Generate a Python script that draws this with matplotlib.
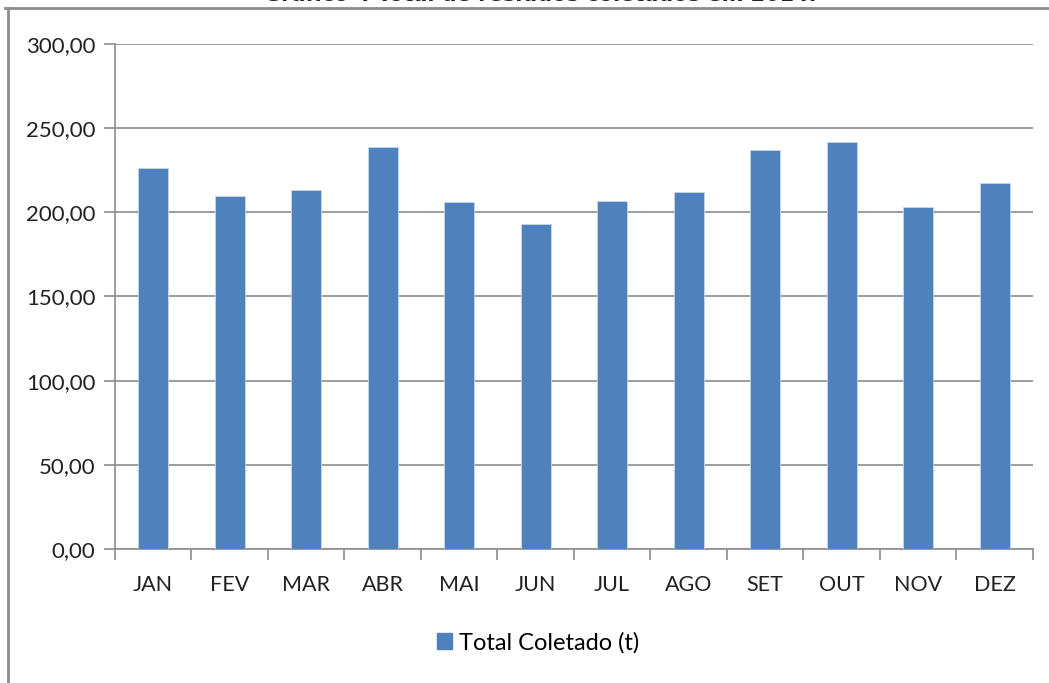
import matplotlib.pyplot as plt
from matplotlib.lines import Line2D
from matplotlib.patches import Patch

# Monthly collected waste totals (tonnes)
months = ['JAN', 'FEV', 'MAR', 'ABR', 'MAI', 'JUN',
          'JUL', 'AGO', 'SET', 'OUT', 'NOV', 'DEZ']
total_coletado = [226.4, 209.4, 213.1, 239.0, 206.0, 193.1,
                  206.8, 212.1, 237.3, 241.8, 203.0, 217.5]
y_ticks = [0, 50, 100, 150, 200, 250, 300]

bar_color = '#4F81BD'
grid_color = '#8C8C8C'
font = 'Lato'

fig = plt.figure(figsize=(10.49, 6.83), dpi=100)
ax = fig.add_axes([0.1096, 0.1962, 0.875, 0.7394])

x = range(len(months))
ax.bar(x, total_coletado, width=0.39, color=bar_color,
       edgecolor='#C9D7EA', linewidth=0.6, zorder=3)

ax.set_xlim(-0.5, len(months) - 0.5)
ax.set_ylim(0, 300)
ax.set_yticks(y_ticks)
ax.set_yticklabels([f'{v:.2f}'.replace('.', ',') for v in y_ticks],
                   fontsize=16, family=font, color='#222222')
ax.yaxis.grid(True, color=grid_color, linewidth=1.2, zorder=0)

# category labels centred on bars, tick marks between categories
ax.set_xticks(list(x))
ax.set_xticklabels(months, fontsize=15.5, family=font, color='#222222')
ax.tick_params(axis='x', length=0, pad=19)
ax.set_xticks([i - 0.5 for i in range(len(months) + 1)], minor=True)
ax.tick_params(axis='x', which='minor', length=8, color=grid_color, width=1.2)
ax.tick_params(axis='y', length=8, color=grid_color, width=1.2, pad=6)

for side in ['top', 'right']:
    ax.spines[side].set_visible(False)
for side in ['left', 'bottom']:
    ax.spines[side].set_color(grid_color)
    ax.spines[side].set_linewidth(1.2)

# legend below the plot
handle = Patch(facecolor=bar_color, edgecolor=bar_color)
fig.legend([handle], ['Total Coletado (t)'], loc='center',
           bbox_to_anchor=(0.513, 0.059), frameon=False,
           prop={'family': font, 'size': 17},
           handlelength=0.62, handleheight=0.62, handletextpad=0.3)

# chart frame (top and left edges)
fig.add_artist(Line2D([5 / 1049, 1.0], [1 - 8 / 683, 1 - 8 / 683],
                      transform=fig.transFigure, color='#8C8C8C', linewidth=2))
fig.add_artist(Line2D([8 / 1049, 8 / 1049], [1 - 8 / 683, 0.0],
                      transform=fig.transFigure, color='#8C8C8C', linewidth=2))

# caption sitting above the frame
fig.text(0.515, 1 - 1 / 683, 'Gráfico 4 Total de resíduos coletados em 2014.',
         ha='center', va='baseline', fontsize=15, fontweight='bold',
         family='DejaVu Sans', color='#222222')

fig.savefig('out.png', dpi=100)
